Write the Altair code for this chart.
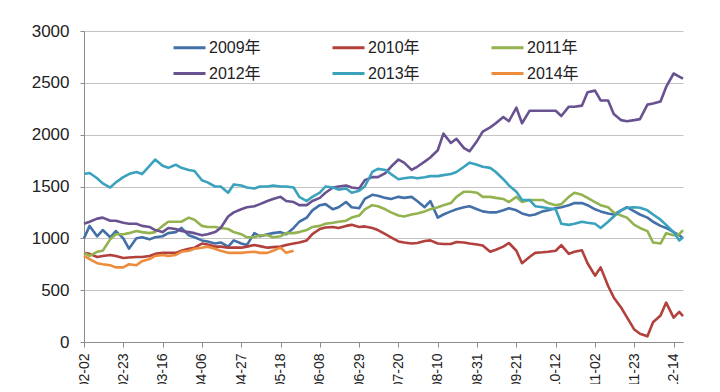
import altair as alt
import pandas as pd

# sampling days after 02-02 (Sundays and Wednesdays), plus the final point 12-19
start = pd.Timestamp("2014-02-02")
day_offsets = sorted([7 * k for k in range(46)] + [7 * k + 3 for k in range(46)]) + [320]
dates = [(start + pd.Timedelta(days=d)).strftime("%Y-%m-%d") for d in day_offsets]

s2009 = [1000, 1120, 1020, 1080, 1010, 1070, 1000, 900, 1000, 1010, 990, 1010, 1020, 1050, 1060, 1100,
         1030, 1010, 980, 970, 950, 960, 920, 980, 950, 935, 1050, 1020, 1040, 1050, 1060, 1040,
         1100, 1160, 1200, 1270, 1320, 1330, 1280, 1300, 1350, 1300, 1290, 1380, 1420, 1410, 1390, 1380,
         1400, 1390, 1400, 1360, 1300, 1360, 1200, 1230, 1260, 1280, 1300, 1310, 1280, 1260, 1250, 1250,
         1270, 1290, 1270, 1240, 1220, 1230, 1260, 1270, 1290, 1300, 1320, 1340, 1340, 1320, 1280, 1260,
         1240, 1230, 1270, 1300, 1260, 1230, 1200, 1160, 1120, 1100, 1060, 1030, 1000]
s2010 = [860, 850, 820, 830, 840, 830, 810, 815, 820, 820, 830, 850, 860, 860, 860, 880,
         900, 910, 950, 940, 920, 920, 910, 910, 910, 920, 935, 925, 910, 915, 920, 935,
         950, 960, 980, 1040, 1090, 1105, 1110, 1100, 1120, 1130, 1110, 1115, 1100, 1080, 1040, 1010,
         970, 960, 950, 955, 975, 980, 950, 945, 945, 965, 960, 950, 940, 930, 870, 890,
         920, 955, 880, 760, 820, 860, 865, 870, 880, 935, 850, 870, 885, 760, 640, 720,
         540, 430, 330, 240, 120, 80, 55, 190, 255, 380, 235, 290, 250]
s2011 = [860, 830, 870, 880, 990, 1040, 1040, 1050, 1070, 1060, 1050, 1060, 1120, 1160, 1160, 1160,
         1200, 1180, 1120, 1110, 1110, 1100, 1090, 1060, 1040, 1010, 1010, 1030, 1030, 1010, 1020, 1050,
         1050, 1060, 1080, 1110, 1120, 1140, 1150, 1160, 1170, 1200, 1220, 1280, 1320, 1310, 1280, 1250,
         1220, 1210, 1230, 1240, 1260, 1280, 1300, 1320, 1340, 1400, 1450, 1450, 1440, 1400, 1400, 1390,
         1380, 1350, 1400, 1350, 1370, 1370, 1370, 1340, 1320, 1330, 1400, 1440, 1420, 1390, 1350, 1320,
         1300, 1250, 1220, 1200, 1130, 1100, 1070, 960, 950, 1050, 1030, 1040, 1080]
s2012 = [1140, 1160, 1190, 1200, 1170, 1170, 1150, 1140, 1140, 1120, 1110, 1080, 1060, 1100, 1090, 1070,
         1060, 1050, 1030, 1040, 1060, 1100, 1210, 1250, 1280, 1300, 1310, 1330, 1360, 1380, 1400, 1360,
         1350, 1320, 1320, 1360, 1390, 1440, 1490, 1500, 1510, 1490, 1480, 1560, 1590, 1590, 1630, 1690,
         1760, 1730, 1660, 1690, 1740, 1780, 1850, 2010, 1920, 1960, 1870, 1840, 1940, 2030, 2070, 2110,
         2170, 2130, 2260, 2110, 2230, 2230, 2230, 2230, 2230, 2180, 2270, 2270, 2280, 2410, 2425, 2330,
         2330, 2200, 2140, 2130, 2140, 2150, 2290, 2300, 2320, 2460, 2590, 2560, 2540]
s2013 = [1620, 1630, 1580, 1530, 1490, 1540, 1590, 1620, 1640, 1620, 1700, 1760, 1700, 1680, 1710, 1680,
         1660, 1650, 1560, 1540, 1500, 1500, 1440, 1520, 1510, 1490, 1480, 1500, 1500, 1510, 1500, 1500,
         1490, 1400, 1360, 1400, 1440, 1500, 1490, 1470, 1480, 1440, 1460, 1500, 1640, 1670, 1660, 1620,
         1570, 1580, 1590, 1580, 1590, 1600, 1600, 1610, 1620, 1640, 1690, 1730, 1710, 1690, 1680, 1640,
         1570, 1510, 1450, 1370, 1370, 1310, 1300, 1290, 1280, 1140, 1130, 1140, 1160, 1150, 1140, 1100,
         1160, 1210, 1270, 1295, 1300, 1295, 1270, 1230, 1180, 1130, 1060, 980, 1010]
s2014 = [830, 800, 760, 750, 740, 720, 720, 750, 740, 780, 800, 830, 840, 830, 840, 870,
         880, 900, 910, 920, 900, 880, 860, 860, 860, 865, 870, 860, 860, 880, 910, 860, 880]

series_names = ["2009年", "2010年", "2011年", "2012年", "2013年", "2014年"]
series_values = [s2009, s2010, s2011, s2012, s2013, s2014]
colors = ["#4470A8", "#B2403C", "#93B350", "#685290", "#3BA2BE", "#EE8C3E"]

tick_dates = ["02-02", "02-23", "03-16", "04-06", "04-27", "05-18", "06-08", "06-29",
              "07-20", "08-10", "08-31", "09-21", "10-12", "11-02", "11-23", "12-14"]
y_ticks = [0, 500, 1000, 1500, 2000, 2500, 3000]

rows = []
for order, (name, vals) in enumerate(zip(series_names, series_values)):
    for d, v in zip(dates, vals):
        rows.append({"date": d, "value": v, "series": name, "order": order})
df = pd.DataFrame(rows)

tick_values = [alt.DateTime(year=2014, month=int(t[:2]), date=int(t[3:]), utc=True) for t in tick_dates]

chart = alt.Chart(df).mark_line(strokeWidth=2.6, strokeJoin="round").encode(
    x=alt.X("date:T",
            scale=alt.Scale(type="utc",
                            domain=[alt.DateTime(year=2014, month=2, date=2, utc=True),
                                    alt.DateTime(year=2014, month=12, date=19, utc=True)]),
            axis=alt.Axis(title=None, values=tick_values,
                          labelExpr="utcFormat(datum.value, '%m-%d')",
                          labelAngle=-90, labelAlign="right", labelBaseline="middle",
                          labelFontSize=14, labelColor="#222", labelFont="Liberation Sans",
                          labelPadding=6, tickSize=5, tickColor="#8c8c8c", domainColor="#8c8c8c",
                          grid=False, labelOverlap=False)),
    y=alt.Y("value:Q",
            scale=alt.Scale(domain=[0, 3000], nice=False),
            axis=alt.Axis(title=None, values=y_ticks, format="d", labelFontSize=17, labelColor="#222",
                          labelFont="Liberation Sans", labelPadding=11, tickSize=4,
                          tickColor="#8c8c8c", domainColor="#8c8c8c", gridColor="#c4c4c4",
                          gridWidth=1.2)),
    color=alt.Color("series:N",
                    scale=alt.Scale(domain=series_names, range=colors),
                    legend=alt.Legend(title=None, orient="none", legendX=88, legendY=-1,
                                      direction="horizontal",
                                      columns=3, symbolType="stroke", symbolSize=1024,
                                      symbolStrokeWidth=3, labelFontSize=16,
                                      labelFont="Liberation Sans, Noto Sans CJK SC",
                                      labelColor="#222", labelOffset=2, columnPadding=65,
                                      rowPadding=0)),
    order=alt.Order("order:Q"),
    detail="series:N",
).properties(
    width=599, height=311,
    autosize=alt.AutoSizeParams(type="none"),
    padding={"left": 76, "top": 23, "right": 29, "bottom": 42},
).configure_view(stroke=None)

chart.save("out.html", embed_options={"renderer": "svg", "actions": False})
